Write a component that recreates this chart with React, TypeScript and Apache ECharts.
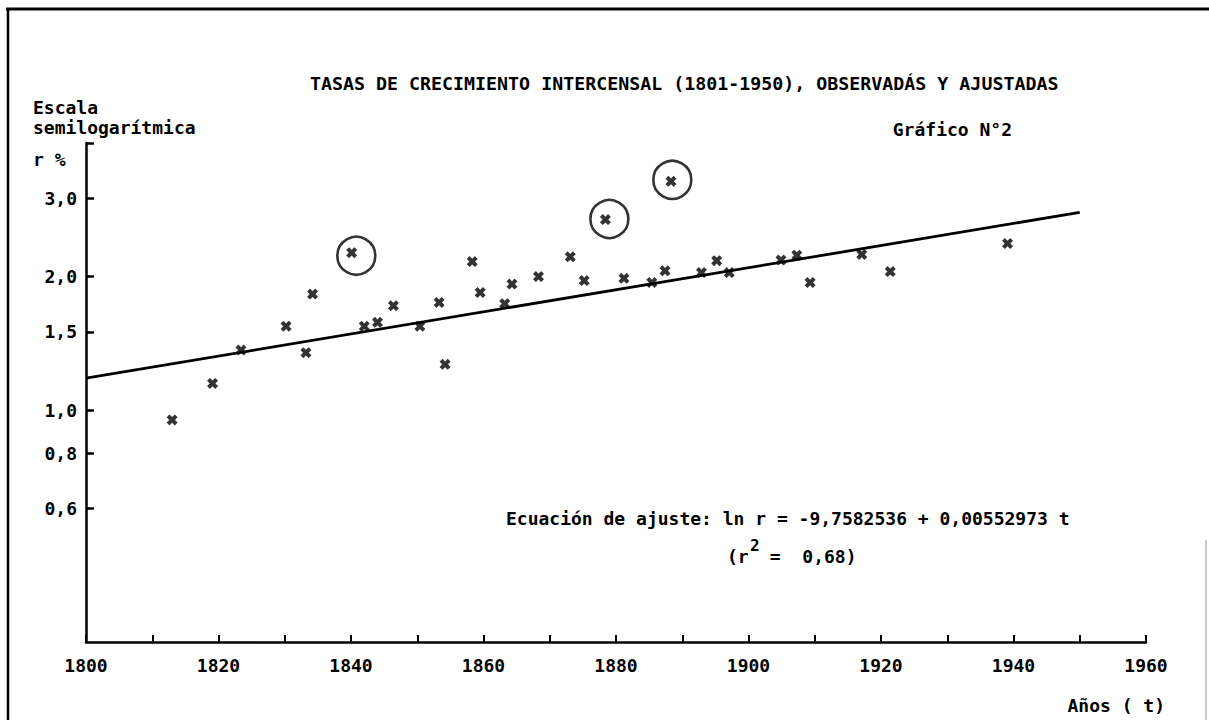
import React, { useEffect, useRef } from "react";
import * as echarts from "echarts";

const years = [
  1813.0, 1819.1, 1823.4, 1830.2, 1833.2, 1834.2, 1840.1, 1842.0, 1844.0, 1846.4,
  1850.4, 1853.3, 1854.2, 1858.3, 1859.5, 1863.2, 1864.3, 1868.3, 1873.1, 1875.2,
  1878.4, 1881.2, 1885.4, 1887.4, 1888.3, 1892.9, 1895.2, 1897.1, 1904.9, 1907.3,
  1909.3, 1917.1, 1921.4, 1939.1,
];
const rates = [
  0.95, 1.148, 1.365, 1.545, 1.347, 1.826, 2.263, 1.545, 1.577, 1.719,
  1.545, 1.748, 1.268, 2.161, 1.841, 1.737, 1.923, 2.0, 2.216, 1.958,
  2.688, 1.982, 1.939, 2.06, 3.279, 2.041, 2.171, 2.041, 2.178, 2.235,
  1.939, 2.243, 2.052, 2.374,
];

// Hand-drawn circles around the outliers
const circledYears = [1840.8, 1879.0, 1888.5];
const circledRates = [2.228, 2.696, 3.304];

// Fitted line (end points as drawn)
const fitYears = [1800, 1950];
const fitRates = [1.18, 2.79];

// Axis ticks
const yLabelValues = [0.6, 0.8, 1.0, 1.5, 2.0, 3.0];
const yTickValues = [0.6, 0.8, 1.0, 1.5, 2.0, 3.0, 4.0];
const xMin = 1800;
const xMax = 1960;
const xStep = 10;

const FONT = '"DejaVu Sans Mono", "Liberation Mono", monospace';
const INK = "#000000";

const CROSS =
  "path://M2.6,0 L5,2.4 L7.4,0 L10,2.6 L7.6,5 L10,7.4 L7.4,10 L5,7.6 L2.6,10 L0,7.4 L2.4,5 L0,2.6 Z";

function txt(text: string, x: number, y: number, opts: any = {}) {
  return {
    type: "text",
    x,
    y,
    silent: true,
    style: {
      text,
      fill: INK,
      fontFamily: FONT,
      fontWeight: "bold",
      fontSize: opts.fontSize ?? 18,
      align: opts.align ?? "left",
      verticalAlign: "middle",
    },
  };
}

export default function App() {
  const ref = useRef<HTMLDivElement>(null);

  useEffect(() => {
    if (!ref.current) return;
    const chart = echarts.init(ref.current, null, { renderer: "svg" });

    const option: any = {
      animation: false,
      backgroundColor: "#ffffff",
      grid: { left: 86, right: 63, top: 143, bottom: 78, containLabel: false },
      xAxis: {
        type: "value",
        min: xMin,
        max: xMax,
        interval: xStep,
        axisLine: { show: true, lineStyle: { color: INK, width: 2.5 } },
        axisTick: { show: true, inside: true, length: 7, lineStyle: { color: INK, width: 2 } },
        axisLabel: {
          margin: 14,
          color: INK,
          fontFamily: FONT,
          fontWeight: "bold",
          fontSize: 18,
          formatter: (v: number) => (v % 20 === 0 ? String(v) : ""),
        },
        splitLine: { show: false },
      },
      yAxis: {
        type: "log",
        logBase: 10,
        min: 0.3,
        max: 4.0,
        axisLine: { show: true, lineStyle: { color: INK, width: 2.5 } },
        axisTick: {
          show: true,
          inside: true,
          length: 8,
          customValues: yTickValues,
          lineStyle: { color: INK, width: 2.5 },
        },
        axisLabel: {
          customValues: yLabelValues,
          margin: 9,
          color: INK,
          fontFamily: FONT,
          fontWeight: "bold",
          fontSize: 18,
          formatter: (v: number) => v.toFixed(1).replace(".", ","),
        },
        splitLine: { show: false },
      },
      series: [
        {
          type: "line",
          data: fitYears.map((y, i) => [y, fitRates[i]]),
          symbol: "none",
          lineStyle: { color: INK, width: 2.8 },
          silent: true,
          z: 2,
        },
        {
          type: "scatter",
          data: years.map((y, i) => [y, rates[i]]),
          symbol: CROSS,
          symbolSize: 11,
          itemStyle: { color: INK },
          silent: true,
          z: 3,
        },
        {
          type: "scatter",
          data: circledYears.map((y, i) => [y, circledRates[i]]),
          symbol: "circle",
          symbolSize: 38,
          itemStyle: { color: "rgba(0,0,0,0)", borderColor: INK, borderWidth: 2.6 },
          silent: true,
          z: 4,
        },
      ],
      graphic: [
        // scanned page frame
        { type: "line", silent: true, shape: { x1: 6, y1: 9, x2: 1209, y2: 9 }, style: { stroke: INK, lineWidth: 3 } },
        { type: "line", silent: true, shape: { x1: 8, y1: 8, x2: 8, y2: 720 }, style: { stroke: INK, lineWidth: 2.5 } },
        { type: "line", silent: true, shape: { x1: 1206, y1: 540, x2: 1206, y2: 720 }, style: { stroke: "#999", lineWidth: 1 } },
        txt("TASAS DE CRECIMIENTO INTERCENSAL (1801-1950), OBSERVADÁS Y AJUSTADAS", 310, 83, { fontSize: 18.3 }),
        txt("Escala", 33, 107),
        txt("semilogarítmica", 33, 127),
        txt("r %", 33, 159),
        txt("Gráfico N°2", 1012, 129, { align: "right" }),
        txt("Ecuación de ajuste: ln r = -9,7582536 + 0,00552973 t", 506, 518),
        txt("(r", 727, 556),
        txt("2", 750, 545, { fontSize: 16 }),
        txt(" =  0,68)", 759, 556),
        txt("Años ( t)", 1165, 705, { align: "right" }),
      ],
    };

    chart.setOption(option);
    return () => chart.dispose();
  }, []);

  return (
    <div
      ref={ref}
      style={{ position: "fixed", left: 0, top: 0, width: 1209, height: 720, background: "#fff" }}
    />
  );
}
